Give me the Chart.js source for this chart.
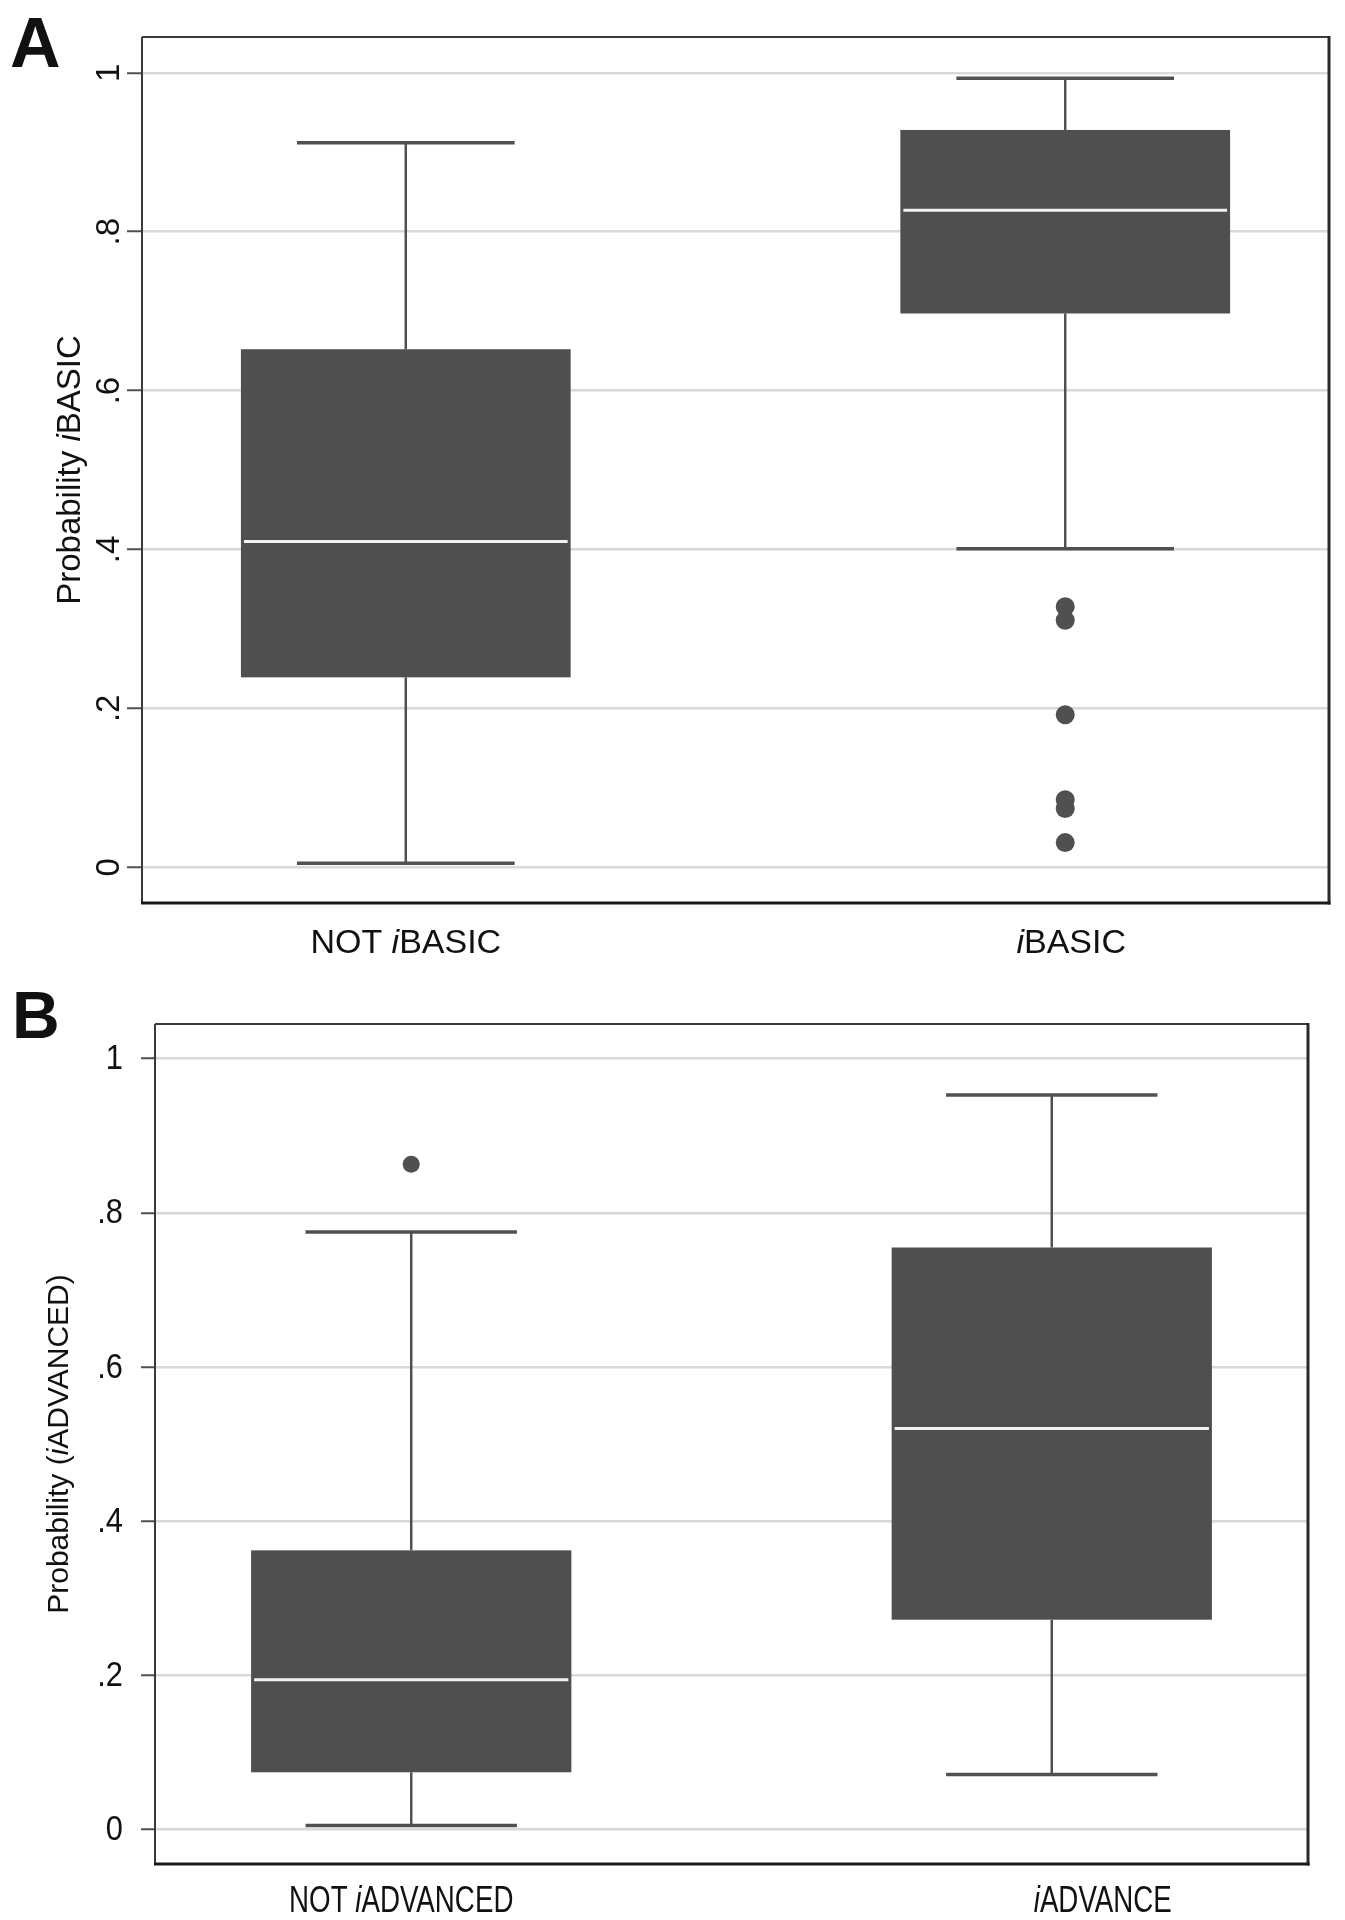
<!DOCTYPE html>
<html>
<head>
<meta charset="utf-8">
<script src="https://cdn.jsdelivr.net/npm/chart.js@4.4.1/dist/chart.umd.min.js"></script>
<style>
  html, body { margin: 0; padding: 0; background: #ffffff; width: 1345px; height: 1920px; overflow: hidden; }
  .panel { position: absolute; left: 0; width: 1345px; }
  #wrapA { top: 0; height: 980px; }
  #wrapB { top: 980px; height: 940px; }
  canvas { display: block; }
</style>
</head>
<body>
<div id="wrapA" class="panel"><canvas id="chartA"></canvas></div>
<div id="wrapB" class="panel"><canvas id="chartB"></canvas></div>
<script>
// ---------------- DATA ----------------
const tickValues = [0, 0.2, 0.4, 0.6, 0.8, 1];
const tickLabels = ["0", ".2", ".4", ".6", ".8", "1"];

// Panel A
const panelLetterA = "A";
const yTitleA = "Probability iBASIC";
const categoriesA = ["NOT iBASIC", "iBASIC"];
const whiskerLowA  = [0.005, 0.401];
const q1A          = [0.239, 0.697];
const medianA      = [0.410, 0.827];
const q3A          = [0.652, 0.928];
const whiskerHighA = [0.912, 0.993];
const outlierGroupA = [1, 1, 1, 1, 1, 1];
const outlierValueA = [0.328, 0.311, 0.192, 0.085, 0.074, 0.031];

// Panel B
const panelLetterB = "B";
const yTitleB = "Probability (iADVANCED)";
const categoriesB = ["NOT iADVANCED", "iADVANCE"];
const whiskerLowB  = [0.005, 0.071];
const q1B          = [0.074, 0.272];
const medianB      = [0.194, 0.520];
const q3B          = [0.362, 0.755];
const whiskerHighB = [0.775, 0.953];
const outlierGroupB = [0];
const outlierValueB = [0.863];

// ---------------- STYLE ----------------
const FAMILY = '"Liberation Sans", Arial, Helvetica, sans-serif';
const X_MIN = -0.4, X_MAX = 1.4;
const Y_MIN = -0.045, Y_MAX = 1.045;
const BOX_HALF = 0.25, CAP_HALF = 0.165;
const BOX_COLOR = '#4f4f4f';
const TEXT_COLOR = '#111111';

const styleA = {
  key: 'A', padTop: 37, padRight: 16, yWidth: 142, xHeight: 77, tickLen: 15, pointRadius: 9.5,
  letterFont: 'bold 70px ' + FAMILY, letterX: 10, letterY: 67,
  yTickRotated: true, yTickSize: 33, yTickX: 119, yTickSx: 1,
  titleSize: 33, titleX: 80, titleSx: 1,
  xLabelSize: 34, xLabelY: 953, xLabelSx: 1, xLabelShift: [0, 6]
};
const styleB = {
  key: 'B', padTop: 44, padRight: 37, yWidth: 155, xHeight: 56, tickLen: 14, pointRadius: 8.5,
  letterFont: 'bold 66px ' + FAMILY, letterX: 12, letterY: 58,
  yTickRotated: false, yTickSize: 35, yTickX: 123, yTickSx: 0.88,
  titleSize: 30, titleX: 68, titleSx: 1,
  xLabelSize: 36, xLabelY: 932, xLabelSx: 0.77, xLabelShift: [-10, 51]
};

// ---------------- HELPERS ----------------
function segments(text) {
  const out = [];
  let buf = '';
  for (let k = 0; k < text.length; k++) {
    const ch = text[k];
    const next = text[k + 1] || '';
    const prev = k === 0 ? ' ' : text[k - 1];
    const italic = ch === 'i' && /[A-Z]/.test(next) && /[\s(]/.test(prev);
    if (italic) {
      if (buf) out.push({ t: buf, it: false });
      out.push({ t: 'i', it: true });
      buf = '';
    } else {
      buf += ch;
    }
  }
  if (buf) out.push({ t: buf, it: false });
  return out;
}

function drawRich(ctx, text, size) {
  const segs = segments(text);
  const fN = size + 'px ' + FAMILY;
  const fI = 'italic ' + size + 'px ' + FAMILY;
  let w = 0;
  segs.forEach(s => { ctx.font = s.it ? fI : fN; s.w = ctx.measureText(s.t).width; w += s.w; });
  let xx = -w / 2;
  ctx.textAlign = 'left';
  ctx.textBaseline = 'alphabetic';
  segs.forEach(s => { ctx.font = s.it ? fI : fN; ctx.fillText(s.t, xx, 0); xx += s.w; });
}

function line(ctx, x1, y1, x2, y2) {
  ctx.beginPath(); ctx.moveTo(x1, y1); ctx.lineTo(x2, y2); ctx.stroke();
}

function boxPlugin(d, st) {
  return {
    id: 'boxes' + st.key,
    beforeDatasetsDraw(chart) {
      const ctx = chart.ctx, x = chart.scales.x, y = chart.scales.y;
      ctx.save();
      d.categories.forEach((c, i) => {
        const cx = x.getPixelForValue(i);
        const bl = x.getPixelForValue(i - BOX_HALF), br = x.getPixelForValue(i + BOX_HALF);
        const cl = x.getPixelForValue(i - CAP_HALF), cr = x.getPixelForValue(i + CAP_HALF);
        const yLo = y.getPixelForValue(d.low[i]), yHi = y.getPixelForValue(d.high[i]);
        const yQ1 = y.getPixelForValue(d.q1[i]), yQ3 = y.getPixelForValue(d.q3[i]);
        const yMed = y.getPixelForValue(d.median[i]);
        ctx.strokeStyle = '#505050';
        ctx.lineCap = 'butt';
        ctx.lineWidth = 2.5;
        line(ctx, cx, yQ3, cx, yHi);
        line(ctx, cx, yQ1, cx, yLo);
        ctx.lineWidth = 3.5;
        line(ctx, cl, yHi, cr, yHi);
        line(ctx, cl, yLo, cr, yLo);
        ctx.fillStyle = BOX_COLOR;
        ctx.fillRect(bl, yQ3, br - bl, yQ1 - yQ3);
        ctx.strokeStyle = '#f2f2f2';
        ctx.lineWidth = 3;
        line(ctx, bl + 3, yMed, br - 3, yMed);
      });
      ctx.restore();
    },
    afterDatasetsDraw(chart) {
      const ctx = chart.ctx, a = chart.chartArea;
      ctx.save();
      ctx.strokeStyle = '#3a3a3a';
      ctx.lineWidth = 2;
      line(ctx, a.left, a.top, a.right, a.top);
      line(ctx, a.left, a.top, a.left, a.bottom);
      ctx.lineWidth = 3;
      ctx.strokeStyle = '#2a2a2a';
      line(ctx, a.right, a.top - 1, a.right, a.bottom + 1.5);
      ctx.strokeStyle = '#1a1a1a';
      line(ctx, a.left - 1, a.bottom, a.right + 1.5, a.bottom);
      ctx.restore();
    },
    afterDraw(chart) {
      const ctx = chart.ctx, a = chart.chartArea, x = chart.scales.x, y = chart.scales.y;
      ctx.save();
      ctx.fillStyle = TEXT_COLOR;
      // panel letter
      ctx.font = st.letterFont;
      ctx.textAlign = 'left';
      ctx.textBaseline = 'alphabetic';
      ctx.fillText(d.letter, st.letterX, st.letterY);
      // y tick labels
      tickValues.forEach((v, i) => {
        const py = y.getPixelForValue(v);
        ctx.save();
        ctx.font = st.yTickSize + 'px ' + FAMILY;
        if (st.yTickRotated) {
          ctx.translate(st.yTickX, py);
          ctx.rotate(-Math.PI / 2);
          ctx.textAlign = 'center';
          ctx.textBaseline = 'alphabetic';
          ctx.fillText(tickLabels[i], 0, 0);
        } else {
          ctx.translate(st.yTickX, py);
          ctx.scale(st.yTickSx, 1);
          ctx.textAlign = 'right';
          ctx.textBaseline = 'middle';
          ctx.fillText(tickLabels[i], 0, 1);
        }
        ctx.restore();
      });
      // y title
      ctx.save();
      ctx.translate(st.titleX, (a.top + a.bottom) / 2);
      ctx.rotate(-Math.PI / 2);
      drawRich(ctx, d.title, st.titleSize);
      ctx.restore();
      // x category labels
      d.categories.forEach((c, i) => {
        ctx.save();
        ctx.translate(x.getPixelForValue(i) + st.xLabelShift[i], st.xLabelY);
        ctx.scale(st.xLabelSx, 1);
        drawRich(ctx, c, st.xLabelSize);
        ctx.restore();
      });
      ctx.restore();
    }
  };
}

function makeChart(id, d, st) {
  const pts = d.outGroup.map((g, k) => ({ x: g, y: d.outValue[k] }));
  return new Chart(document.getElementById(id), {
    type: 'scatter',
    data: {
      datasets: [{
        data: pts,
        pointRadius: st.pointRadius,
        pointHoverRadius: st.pointRadius,
        backgroundColor: '#505050',
        borderWidth: 0
      }]
    },
    options: {
      responsive: true,
      maintainAspectRatio: false,
      devicePixelRatio: 1,
      animation: false,
      events: [],
      layout: { padding: { top: st.padTop, right: st.padRight, left: 0, bottom: 0 } },
      plugins: { legend: { display: false }, tooltip: { enabled: false } },
      scales: {
        x: {
          type: 'linear', min: X_MIN, max: X_MAX,
          grid: { display: false }, border: { display: false },
          ticks: { display: false },
          afterFit: s => { s.height = st.xHeight; }
        },
        y: {
          type: 'linear', min: Y_MIN, max: Y_MAX,
          afterBuildTicks: s => { s.ticks = tickValues.map(v => ({ value: v })); },
          grid: { color: '#d9d9d9', lineWidth: 2.5, tickColor: '#505050', tickLength: st.tickLen, tickWidth: 2, drawTicks: true },
          border: { display: false },
          ticks: { display: false },
          afterFit: s => { s.width = st.yWidth; }
        }
      }
    },
    plugins: [boxPlugin(d, st)]
  });
}

makeChart('chartA', {
  letter: panelLetterA, title: yTitleA, categories: categoriesA,
  low: whiskerLowA, q1: q1A, median: medianA, q3: q3A, high: whiskerHighA,
  outGroup: outlierGroupA, outValue: outlierValueA
}, styleA);

makeChart('chartB', {
  letter: panelLetterB, title: yTitleB, categories: categoriesB,
  low: whiskerLowB, q1: q1B, median: medianB, q3: q3B, high: whiskerHighB,
  outGroup: outlierGroupB, outValue: outlierValueB
}, styleB);
</script>
</body>
</html>
